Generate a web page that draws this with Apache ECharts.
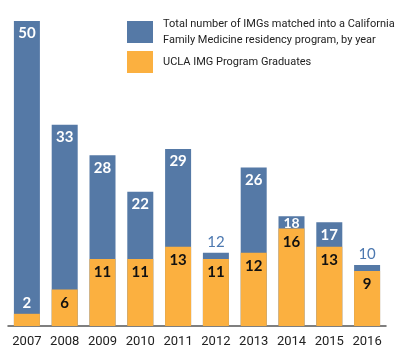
<!DOCTYPE html>
<html><head><meta charset="utf-8">
<script src="https://cdn.jsdelivr.net/npm/echarts@6/dist/echarts.min.js"></script>
<style>html,body{margin:0;padding:0;background:#fff}#c{width:400px;height:363px}</style>
</head><body><div id="c"></div>
<script>
const years = ['2007','2008','2009','2010','2011','2012','2013','2014','2015','2016'];
const totalMatched = [50,33,28,22,29,12,26,18,17,10];
const uclaGrads = [2,6,11,11,13,11,12,16,13,9];
const seriesNames = ['Total number of IMGs matched into a California\nFamily Medicine residency program, by year','UCLA IMG Program Graduates'];

const BLUE = '#5579a6', ORANGE = '#fbb040';
const totalData = totalMatched.map((v,i) => {
  const gap = v - uclaGrads[i];
  if (gap < 2) return {value: v, label: {position:'top', distance:3, color:'#4c78b0', fontWeight:'normal'}};
  if (gap < 3) return {value: v, label: {distance:0, fontSize:14}};
  return {value: v};
});
const uclaData = uclaGrads.map(v => ({value: v, label: v < 3 ? {position:'top', distance:3, color:'#fff'} : {}}));

const chart = echarts.init(document.getElementById('c'));
chart.setOption({
  animation:false,
  textStyle:{fontFamily:'Lato'},
  grid:{left:8, right:14, top:21, bottom:37},
  legend:{
    orient:'vertical', left:127, top:16, padding:0, itemWidth:26, itemHeight:22, itemGap:3,
    icon:'rect',
    textStyle:{fontFamily:'Roboto', fontSize:11, color:'#222', lineHeight:16, padding:[0,0,0,5], width:240, overflow:'none'},
    data:seriesNames
  },
  xAxis:{type:'category', data:years,
    axisLine:{lineStyle:{color:'#555', width:1.5}}, axisTick:{show:false},
    axisLabel:{color:'#222', fontSize:13, margin:9, interval:0, fontFamily:'Roboto'}},
  yAxis:{type:'value', min:0, max:50, show:false, splitLine:{show:false}},
  series:[
    {name:seriesNames[0], type:'bar', data:totalData, barWidth:26, barGap:'-100%',
     itemStyle:{color:BLUE},
     label:{show:true, position:'insideTop', distance:5, color:'#fff', fontSize:15, fontWeight:'bold', fontFamily:'Lato'}},
    {name:seriesNames[1], type:'bar', data:uclaData, barWidth:26, barGap:'-100%',
     itemStyle:{color:ORANGE},
     label:{show:true, position:'insideTop', distance:6, color:'#111', fontSize:15, fontWeight:'bold', fontFamily:'Lato'}}
  ]
});
</script></body></html>
